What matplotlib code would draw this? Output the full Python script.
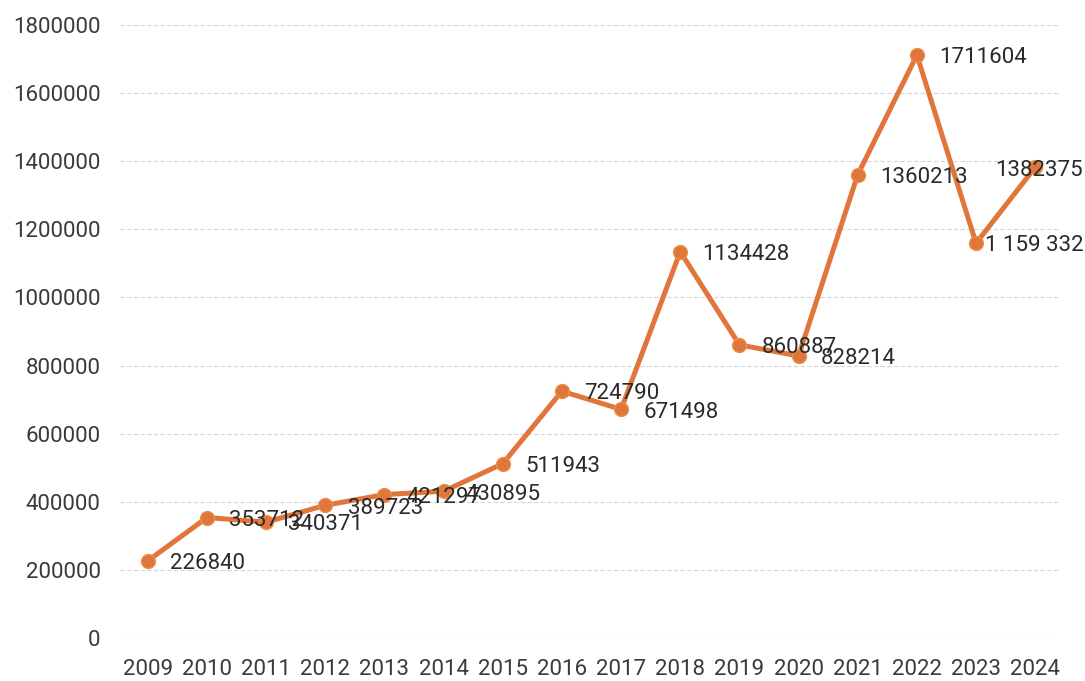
import matplotlib
matplotlib.use('Agg')
import matplotlib.pyplot as plt

years = list(range(2009, 2025))
values = [226840, 353712, 340371, 389723, 421297, 430895, 511943, 724790,
          671498, 1134428, 860887, 828214, 1360213, 1711604, 1159332, 1382375]
point_labels = ['226840', '353712', '340371', '389723', '421297', '430895',
                '511943', '724790', '671498', '1134428', '860887', '828214',
                '1360213', '1711604', '1 159 332', '1382375']
yticks = [0, 200000, 400000, 600000, 800000, 1000000, 1200000, 1400000, 1600000, 1800000]

plt.rcParams['font.family'] = ['Roboto', 'DejaVu Sans']

fig = plt.figure(figsize=(10.85, 6.81), dpi=100)
ax = fig.add_axes([0.1106, 0.0631, 0.8664, 0.9002])

ax.plot(years, values, color='#E0763C', linewidth=3.6, marker='o',
        markersize=10, markerfacecolor='#E0763C', markeredgecolor='#E8904A',
        solid_capstyle='round', zorder=3)

# labels sit right of the points; the last two are pulled in so they fit
for i, (x, y, t) in enumerate(zip(years, values, point_labels)):
    dx = 16
    if i == len(years) - 2:
        dx = 6.5
    elif i == len(years) - 1:
        dx = -28.5
    ax.annotate(t, (x, y), xytext=(dx, -2), textcoords='offset points',
                ha='left', va='center', fontsize=16, color='#2a2a2a', zorder=4)

ax.set_xlim(2008.53, 2024.42)
ax.set_ylim(0, 1800000)
ax.set_xticks(years)
ax.set_xticklabels([str(y) for y in years])
ax.set_yticks(yticks)
ax.set_yticklabels([str(v) for v in yticks])
ax.tick_params(axis='both', length=0, labelsize=16, labelcolor='#3a3a3a')
ax.tick_params(axis='x', pad=15)
ax.tick_params(axis='y', pad=14)
ax.grid(axis='y', color='#d6d6d6', linewidth=0.8, linestyle=(0, (4, 2)))
ax.set_axisbelow(True)
for s in ax.spines.values():
    s.set_visible(False)

fig.savefig('out.png', dpi=100)
